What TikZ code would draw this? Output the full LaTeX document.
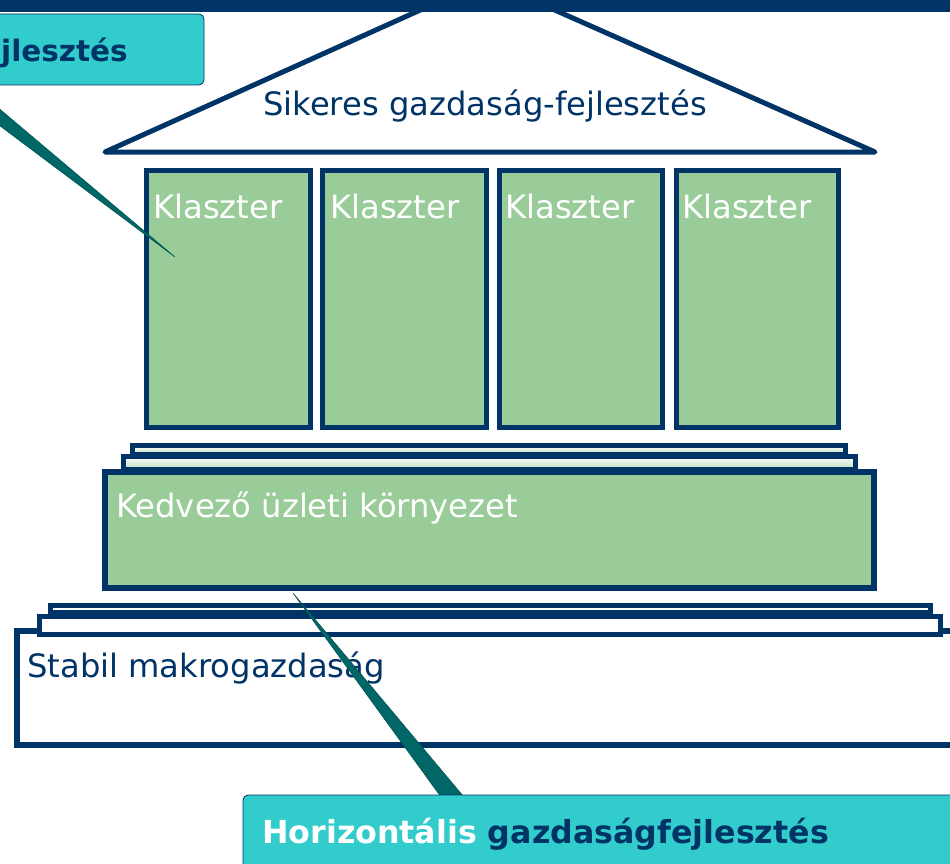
\documentclass[tikz,border=0pt]{standalone}
\usepackage{fontspec}
\setmainfont{DejaVu Sans}
\definecolor{dblue}{HTML}{003366}
\definecolor{lgreen}{HTML}{99CC99}
\definecolor{turq}{HTML}{33CCCC}
\definecolor{teal2}{HTML}{006666}
\tikzset{
  frame/.style={draw=dblue, line width=5.5pt},
  colbox/.style={frame, fill=lgreen},
  stepgrad/.style={frame, top color=white, bottom color=lgreen!70},
  stepwhite/.style={frame, fill=white},
  lbl/.style={anchor=base west, inner sep=0pt, font=\fontsize{32.2}{38}\selectfont},
  blbl/.style={anchor=base west, inner sep=0pt, font=\fontsize{31.7}{38}\selectfont\bfseries},
  callout/.style={draw=dblue, line width=0.8pt, fill=turq, rounded corners=5pt},
  pointer/.style={fill=teal2, draw=teal2!80!black, line width=0.5pt},
}
\begin{document}
\begin{tikzpicture}[x=1pt, y=-1pt]
\useasboundingbox (0,0) rectangle (950,864);
\clip (0,0) rectangle (950,864);
% roof
\draw[frame, line width=5pt, line join=round] (105,152) -- (487,-20) -- (875,152) -- cycle;
\fill[dblue] (-5,-5) rectangle (955,12);
\node[lbl, text=dblue] (roof) at (263,116) {Sikeres gazdaság-fejlesztés};
% columns
\draw[colbox] (146.5,170.5) rectangle (310.5,427.5);
\draw[colbox] (322.5,170.5) rectangle (486.5,427.5);
\draw[colbox] (499.5,170.5) rectangle (662.5,427.5);
\draw[colbox] (676.5,170.5) rectangle (838.5,427.5);
\node[lbl, text=white] (k1) at (153,218) {Klaszter};
\node[lbl, text=white] (k2) at (330,218) {Klaszter};
\node[lbl, text=white] (k3) at (505,218) {Klaszter};
\node[lbl, text=white] (k4) at (682,218) {Klaszter};
% upper steps
\draw[stepgrad] (132.5,445.5) rectangle (845.5,455);
\draw[stepgrad] (123.5,456.5) rectangle (855.5,470);
\draw[colbox, line width=6pt] (105,472) rectangle (874,588);
\node[lbl, text=white] (kedv) at (116,517) {Kedvező üzleti környezet};
% base
\draw[frame, line width=6pt, fill=white] (17,631) rectangle (980,745);
\draw[stepwhite] (39.5,616.5) rectangle (940.5,634.5);
\draw[stepwhite] (50.5,605.5) rectangle (930.5,613);
\node[lbl, text=dblue] (stab) at (27,677) {Stabil makrogazdaság};
% bottom callout
\coordinate (tipB) at (293,593);
\fill[pointer] (441,797) -- (tipB) -- (464,797) -- cycle;
\draw[callout] (243,795) rectangle (990,900);
\node[blbl, text=white] (hor) at (262,843) {Horizontális \textcolor{dblue}{gazdaságfejlesztés}};
% top-left callout
\coordinate (tipA) at (175,257);
\fill[pointer] (-56,84) -- (tipA) -- (-30,84) -- cycle;
\draw[callout] (-30,14) rectangle (204,85);
\node[blbl, text=dblue, anchor=base east, font=\fontsize{29.5}{36}\selectfont\bfseries] (vert) at (128,62) {gazdaságfejlesztés};
\end{tikzpicture}
\end{document}
